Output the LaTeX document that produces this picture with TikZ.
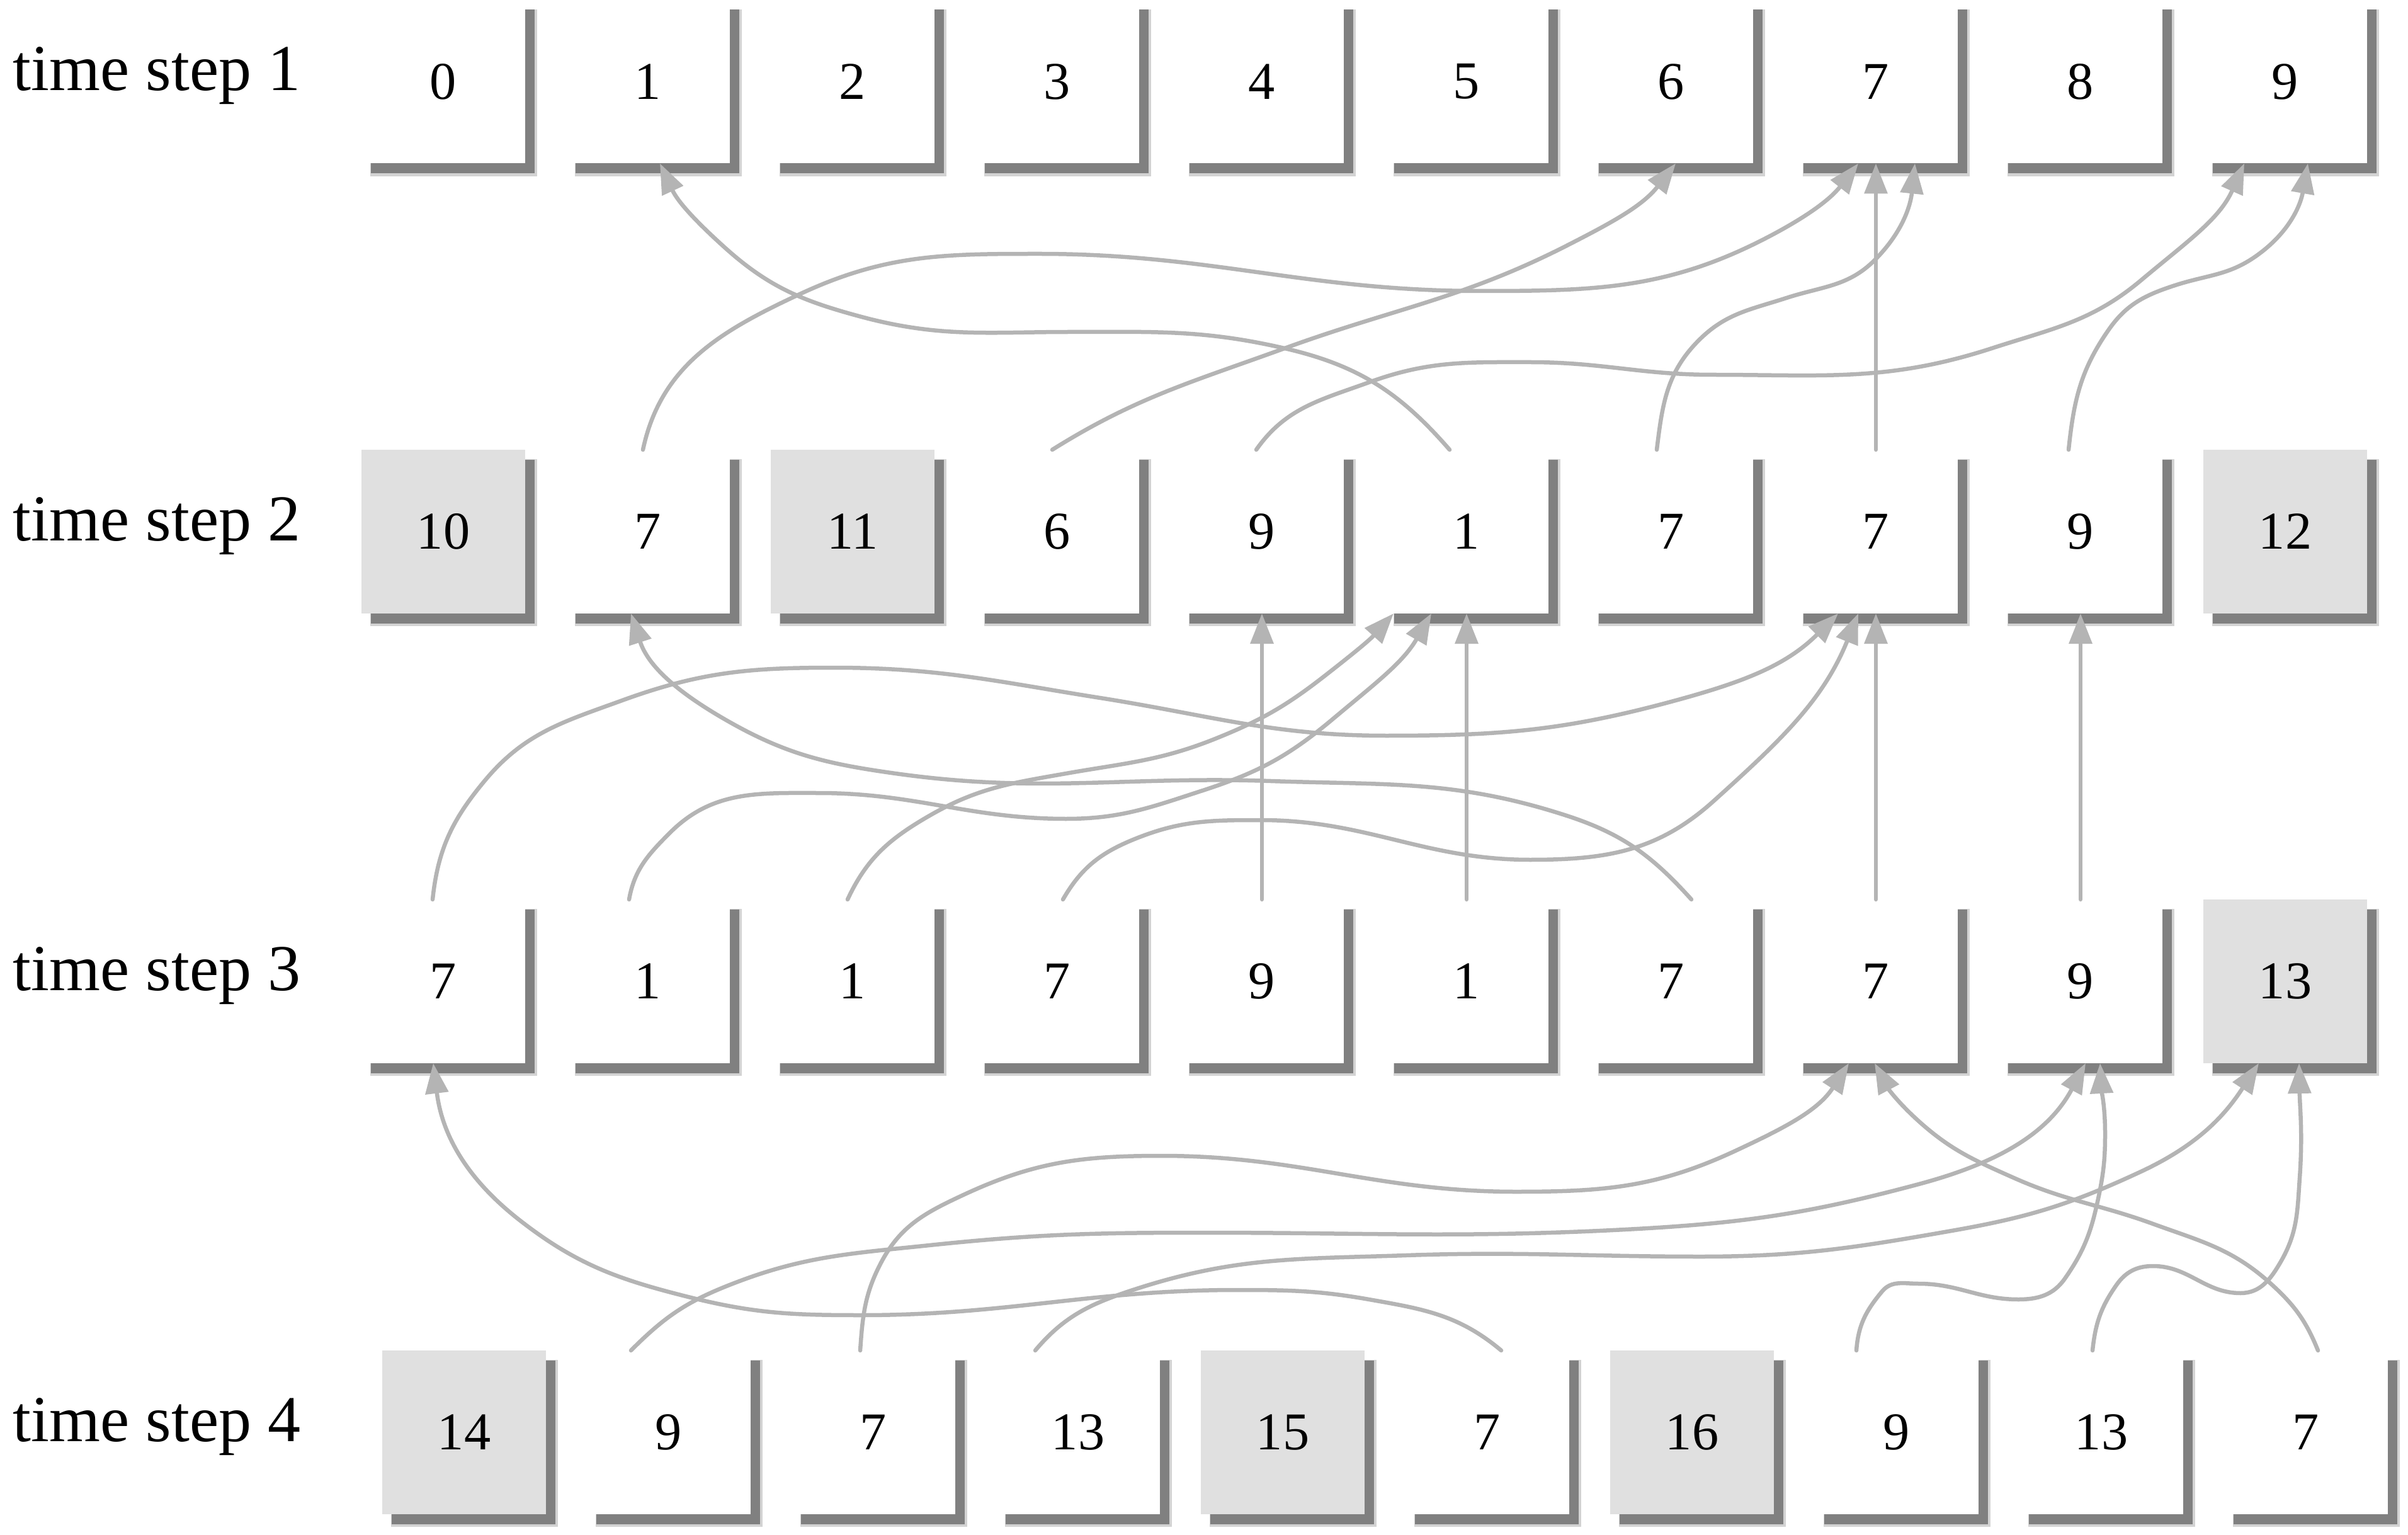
\documentclass[tikz,border=0pt]{standalone}
\usepackage{fontspec}
\setmainfont{Liberation Serif}
\usetikzlibrary{shadows,arrows.meta,calc}
\definecolor{conncol}{RGB}{180,180,180}
\definecolor{hlfill}{RGB}{224,224,224}
\definecolor{shadowcol}{RGB}{128,128,128}
\begin{document}
\begin{tikzpicture}[
  cell/.style={minimum width=2.6cm, minimum height=2.6cm, inner sep=0pt, outer sep=0pt,
    fill=white, font=\fontsize{24pt}{28pt}\selectfont,
    general shadow={fill=shadowcol, opacity=0.35, shadow xshift=0.165cm, shadow yshift=-0.175cm, shadow scale=1.02},
    general shadow={fill=shadowcol, shadow xshift=0.15cm, shadow yshift=-0.16cm}},
  hl/.style={cell, fill=hlfill},
  rowlabel/.style={anchor=base west, inner sep=0pt, font=\fontsize{29.6pt}{34pt}\selectfont},
  conn/.style={draw=conncol, line width=0.065cm, line cap=round,
    -{Triangle[length=0.48cm, width=0.36cm]}},
]
\useasboundingbox (0,0) rectangle (38.24,-24.37);

% row labels
\node[rowlabel] (lab1) at (0.20,-1.44) {time step 1};
\node[rowlabel] (lab2) at (0.20,-8.58) {time step 2};
\node[rowlabel] (lab3) at (0.20,-15.72) {time step 3};
\node[rowlabel] (lab4) at (0.20,-22.88) {time step 4};

% boxes
\foreach \v/\s [count=\i from 0] in {0/cell,1/cell,2/cell,3/cell,4/cell,5/cell,6/cell,7/cell,8/cell,9/cell}
  \node[\s] (r1c\i) at ({7.04+3.25*\i},-1.295) {\v};
\foreach \v/\s [count=\i from 0] in {10/hl,7/cell,11/hl,6/cell,9/cell,1/cell,7/cell,7/cell,9/cell,12/hl}
  \node[\s] (r2c\i) at ({7.04+3.25*\i},-8.44) {\v};
\foreach \v/\s [count=\i from 0] in {7/cell,1/cell,1/cell,7/cell,9/cell,1/cell,7/cell,7/cell,9/cell,13/hl}
  \node[\s] (r3c\i) at ({7.04+3.25*\i},-15.58) {\v};
\foreach \v/\s [count=\i from 0] in {14/hl,9/cell,7/cell,13/cell,15/hl,7/cell,16/hl,9/cell,13/cell,7/cell}
  \node[\s] (r4c\i) at ({7.37+3.25*\i},-22.74) {\v};

% ---- time step 2 -> time step 1
\draw[conn] ($(r2c1.north)+(-0.08,0)$) to[out=78,in=205] (12.70,-4.67) to[out=25,in=180] (16.50,-4.03)
  to[out=0,in=180] (23.49,-4.62) to[out=0,in=208] (28.14,-3.73) to[out=28,in=232] ($(r1c7.south)+(-0.28,0)$);
\draw[conn] ($(r2c5.north)+(-0.27,0)$) to[out=131,in=347] (20.40,-5.53) to[out=167,in=0] (17.00,-5.27)
  to[out=180,in=345] (13.68,-5.03) to[out=165,in=318] (11.51,-3.93) to[out=138,in=295] ($(r1c1.south)+(0.19,0)$);
\draw[conn] ($(r2c3.north)+(-0.08,0)$) to[out=32,in=200] (20.40,-5.53) to[out=20,in=207] (24.88,-3.90)
  to[out=27,in=232] ($(r1c6.south)+(0.07,0)$);
\draw[conn] ($(r2c4.north)+(-0.09,0)$) to[out=55,in=200] (21.74,-6.07) to[out=20,in=180] (24.30,-5.75)
  to[out=0,in=180] (27.20,-5.95) to[out=0,in=198] (31.63,-5.53) to[out=18,in=220] (34.00,-4.45)
  to[out=40,in=246] ($(r1c9.south)+(-0.65,0)$);
\draw[conn] ($(r2c6.north)+(-0.23,0)$) to[out=83,in=225] (26.98,-5.40) to[out=45,in=198] (28.37,-4.73)
  to[out=18,in=225] (29.77,-4.13) to[out=45,in=264] ($(r1c7.south)+(0.62,0)$);
\draw[conn] (r2c7.north) -- (r1c7.south);
\draw[conn] ($(r2c8.north)+(-0.19,0)$) to[out=84,in=235] (33.49,-5.23) to[out=55,in=198] (34.54,-4.53)
  to[out=18,in=215] (35.82,-4.07) to[out=35,in=260] ($(r1c9.south)+(0.36,0)$);

% ---- time step 3 -> time step 2
\draw[conn] ($(r3c0.north)+(-0.17,0)$) to[out=84,in=230] (7.71,-12.38) to[out=50,in=200] (9.88,-11.12)
  to[out=20,in=180] (13.24,-10.60) to[out=0,in=171] (17.47,-11.08) to[out=-9,in=180] (22.01,-11.68)
  to[out=0,in=195] (26.50,-11.15) to[out=15,in=225] ($(r2c7.south)+(-0.60,0)$);
\draw[conn] ($(r3c1.north)+(-0.30,0)$) to[out=80,in=225] (10.64,-13.22) to[out=45,in=180] (13.00,-12.59)
  to[out=0,in=180] (16.93,-13.00) to[out=0,in=198] (19.10,-12.55) to[out=18,in=220] (21.16,-11.42)
  to[out=40,in=240] ($(r2c5.south)+(-0.56,0)$);
\draw[conn] ($(r3c2.north)+(-0.08,0)$) to[out=65,in=210] (14.76,-12.95) to[out=30,in=190] (16.93,-12.28)
  to[out=10,in=202] (19.32,-11.72) to[out=22,in=218] (21.05,-10.72) to[out=38,in=228] ($(r2c5.south)+(-1.16,0)$);
\draw[conn] ($(r3c3.north)+(0.09,0)$) to[out=60,in=202] (18.02,-13.32) to[out=22,in=180] (20.02,-13.02)
  to[out=0,in=180] (24.30,-13.65) to[out=0,in=222] (27.21,-12.72) to[out=42,in=248] ($(r2c7.south)+(-0.28,0)$);
\draw[conn] (r3c4.north) -- (r2c4.south);
\draw[conn] (r3c5.north) -- (r2c5.south);
\draw[conn] ($(r3c6.north)+(0.32,0)$) to[out=132,in=342] (24.88,-12.95) to[out=162,in=358] (20.18,-12.40)
  to[out=178,in=352] (14.22,-12.28) to[out=172,in=330] (11.51,-11.42) to[out=150,in=288] ($(r2c1.south)+(-0.27,0)$);
\draw[conn] (r3c7.north) -- (r2c7.south);
\draw[conn] (r3c8.north) -- (r2c8.south);

% ---- time step 4 -> time step 3
\draw[conn] ($(r4c1.north)+(-0.60,0)$) to[out=45,in=202] (11.51,-20.43) to[out=22,in=186] (14.76,-19.77)
  to[out=6,in=180] (19.10,-19.57) to[out=0,in=183] (25.81,-19.52) to[out=3,in=195] (30.47,-18.80)
  to[out=15,in=242] ($(r3c8.south)+(0.08,0)$);
\draw[conn] ($(r4c2.north)+(-0.21,0)$) to[out=86,in=242] (14.00,-20.03) to[out=62,in=205] (15.30,-18.97)
  to[out=25,in=180] (18.45,-18.35) to[out=0,in=180] (24.07,-18.92) to[out=0,in=205] (27.56,-18.27)
  to[out=25,in=237] ($(r3c7.south)+(-0.43,0)$);
\draw[conn] ($(r4c3.north)+(-0.68,0)$) to[out=50,in=198] (18.02,-20.47) to[out=18,in=182] (22.33,-19.93)
  to[out=2,in=180] (27.00,-19.95) to[out=0,in=190] (31.05,-19.53) to[out=10,in=205] (34.00,-18.60)
  to[out=25,in=237] ($(r3c9.south)+(-0.42,0)$);
\draw[conn] ($(r4c5.north)+(0.22,0)$) to[out=140,in=350] (21.74,-20.63) to[out=170,in=0] (19.64,-20.48)
  to[out=180,in=0] (13.68,-20.88) to[out=180,in=346] (10.97,-20.60) to[out=166,in=322] (8.25,-19.37)
  to[out=142,in=277] ($(r3c0.south)+(-0.16,0)$);
\draw[conn] ($(r4c7.north)+(-0.64,0)$) to[out=86,in=230] (29.89,-20.50) to[out=50,in=180] (30.47,-20.38)
  to[out=0,in=180] (32.05,-20.63) to[out=0,in=235] (32.79,-20.30) to[out=55,in=258] (33.32,-19.03)
  to[out=78,in=270] (33.43,-18.00) to[out=90,in=273] ($(r3c8.south)+(0.31,0)$);
\draw[conn] ($(r4c8.north)+(-0.14,0)$) to[out=84,in=235] (33.61,-20.40) to[out=55,in=180] (34.19,-20.10)
  to[out=0,in=180] (35.58,-20.53) to[out=0,in=240] (36.22,-20.03) to[out=60,in=266] (36.52,-18.70)
  to[out=86,in=271] ($(r3c9.south)+(0.22,0)$);
\draw[conn] ($(r4c9.north)+(0.19,0)$) to[out=112,in=318] (36.05,-20.37) to[out=138,in=340] (34.19,-19.43)
  to[out=160,in=336] (31.98,-18.70) to[out=156,in=318] (30.47,-17.80) to[out=138,in=298] ($(r3c7.south)+(-0.02,0)$);
\end{tikzpicture}
\end{document}
